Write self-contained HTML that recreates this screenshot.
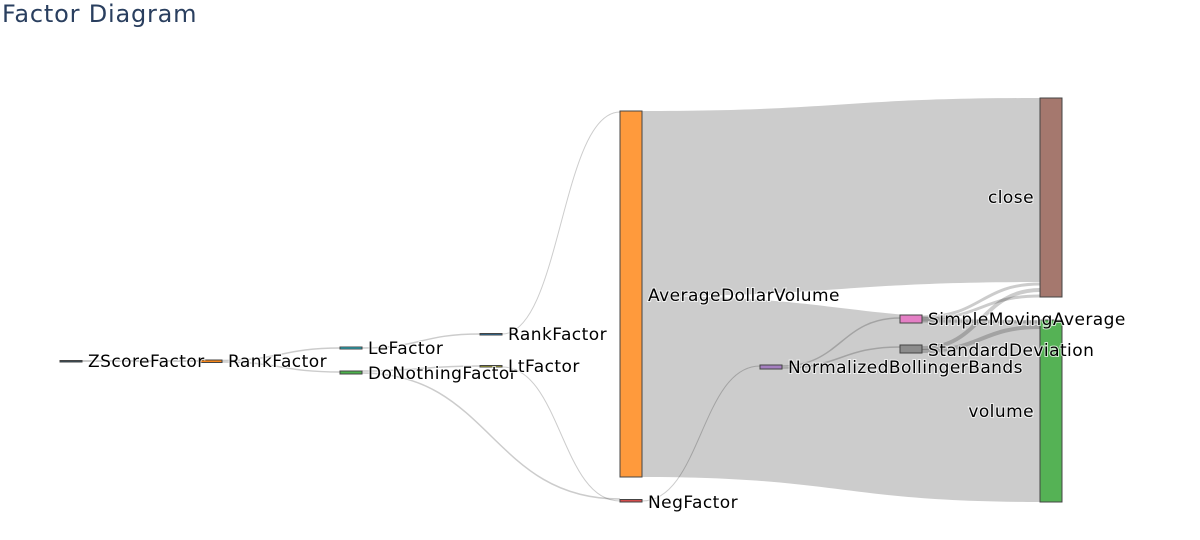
<!DOCTYPE html>
<html><head><meta charset="utf-8"><style>
html,body{margin:0;padding:0;background:#fff;}
svg{display:block;font-family:"DejaVu Sans","Liberation Sans",sans-serif;}
.l{fill:none;stroke:rgba(0,0,0,0.2);}
.t{font-size:17px;letter-spacing:0.45px;fill:#000;paint-order:stroke;stroke:#fff;stroke-width:2px;stroke-opacity:.7}
.n{stroke:#444;stroke-width:1}
</style></head><body>
<svg width="1200" height="540" viewBox="0 0 1200 540">
<text x="2" y="22" font-size="24" letter-spacing="0.8" fill="#2a3f5f">Factor Diagram</text>
<path d="M642,111 C841,111 841,98 1040,98 L1040,282 C841,282 841,296 642,296 Z" fill="rgba(0,0,0,0.2)"/>
<path d="M642,296 C841,296 841,320 1040,320 L1040,502 C841,502 841,477 642,477 Z" fill="rgba(0,0,0,0.2)"/>
<path class="l" stroke-width="2" d="M82,361 C141,361 141,361 200,361"/>
<path class="l" stroke-width="1.5" d="M222,360.5 C281,360.5 281,348 340,348"/>
<path class="l" stroke-width="1.5" d="M222,362 C281,362 281,372 340,372"/>
<path class="l" stroke-width="1.5" d="M362,348 C421,348 421,334 480,334"/>
<path class="l" stroke-width="1.5" d="M362,371 C421,371 421,366 480,366"/>
<path class="l" stroke-width="1.5" d="M362,373 C491,373 491,499 620,499"/>
<path class="l" stroke-width="1" d="M502,334 C561,334 561,112 620,112"/>
<path class="l" stroke-width="1" d="M502,367 C561,367 561,501 620,501"/>
<path class="l" stroke-width="1" d="M642,501 C701,501 701,366 760,366"/>
<path class="l" stroke-width="1.5" d="M782,366 C841,366 841,318 900,318"/>
<path class="l" stroke-width="1.5" d="M782,368 C841,368 841,347 900,347"/>
<path class="l" stroke-width="3" d="M922,317 C981,317 981,284 1040,284"/>
<path class="l" stroke-width="3" d="M922,321 C981,321 981,322 1040,322"/>
<path class="l" stroke-width="4" d="M922,348 C981,348 981,290 1040,290"/>
<path class="l" stroke-width="4" d="M922,351 C981,351 981,327 1040,327"/>
<path class="l" stroke-width="3" d="M922,319 C981,319 981,296 1040,296"/>
<rect class="n" x="60" y="360.5" width="22" height="1.5" fill="#2f4b5c"/>
<rect class="n" x="200" y="360" width="22" height="2.5" fill="#f58518"/>
<rect class="n" x="340" y="347" width="22" height="2" fill="#17becf"/>
<rect class="n" x="340" y="371" width="22" height="3" fill="#4cb24c"/>
<rect class="n" x="480" y="333.5" width="22" height="1.5" fill="#1f77b4"/>
<rect class="n" x="480" y="365.5" width="22" height="1.5" fill="#bcbd22"/>
<rect class="n" x="620" y="111" width="22" height="366" fill="#ff9a3c"/>
<rect class="n" x="620" y="499.5" width="22" height="2.5" fill="#d44c4c"/>
<rect class="n" x="760" y="365" width="22" height="4" fill="#a57fc0"/>
<rect class="n" x="900" y="315" width="22" height="8" fill="#e47fc5"/>
<rect class="n" x="900" y="345" width="22" height="8" fill="#8c8c8c"/>
<rect class="n" x="1040" y="98" width="22" height="199" fill="#a5786e"/>
<rect class="n" x="1040" y="320" width="22" height="182" fill="#55b255"/>
<text class="t" x="88" y="367">ZScoreFactor</text>
<text class="t" x="228" y="367">RankFactor</text>
<text class="t" x="368" y="354">LeFactor</text>
<text class="t" x="368" y="379">DoNothingFactor</text>
<text class="t" x="508" y="340">RankFactor</text>
<text class="t" x="508" y="372">LtFactor</text>
<text class="t" x="648" y="301">AverageDollarVolume</text>
<text class="t" x="648" y="508">NegFactor</text>
<text class="t" x="788" y="373">NormalizedBollingerBands</text>
<text class="t" x="928" y="325">SimpleMovingAverage</text>
<text class="t" x="928" y="356">StandardDeviation</text>
<text class="t" x="1034" y="203" text-anchor="end">close</text>
<text class="t" x="1034" y="417" text-anchor="end">volume</text>
</svg>
</body></html>
